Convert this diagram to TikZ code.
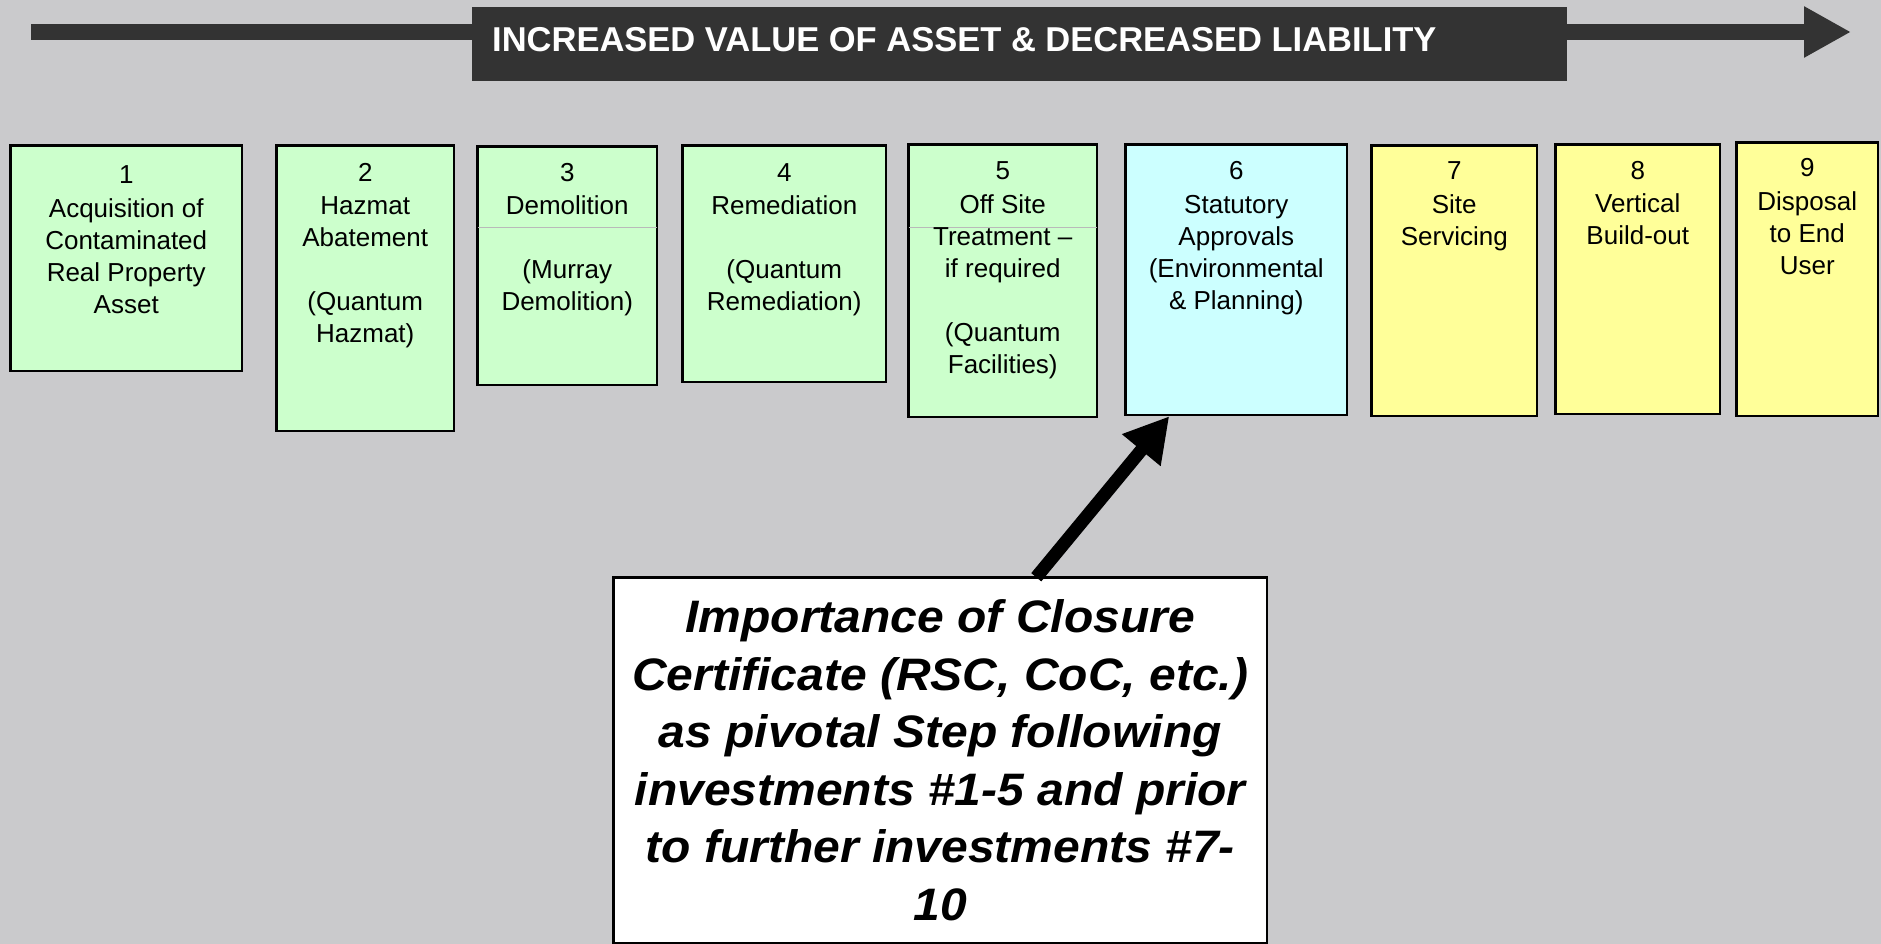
\documentclass[tikz,border=0pt]{standalone}
\usepackage{fontspec}
\setmainfont{Liberation Sans}
\usetikzlibrary{arrows.meta}
\definecolor{bg}{RGB}{202,202,204}
\definecolor{dark}{RGB}{51,51,51}
\definecolor{gfill}{RGB}{204,255,204}
\definecolor{cfill}{RGB}{204,255,255}
\definecolor{yfill}{RGB}{255,255,153}
\tikzset{
  stepbox/.style={draw=black, line width=2.5pt, rectangle, inner sep=0pt, anchor=north west, xshift=1.25pt, yshift=-1.25pt},
  steptext/.style={anchor=north, inner sep=0pt, align=center, font=\fontsize{26}{32}\selectfont},
  faint/.style={draw=gray!55, line width=0.8pt},
  bigarrow/.style={line width=13pt, -{Triangle[length=44pt,width=47pt]}},
  toparrow/.style={draw=dark, line width=16pt, -{Triangle[length=47pt,width=48pt]}}
}
\begin{document}
\begin{tikzpicture}[x=1pt,y=-1pt]
\useasboundingbox (0,0) rectangle (1881,944);
\fill[bg] (0,0) rectangle (1881,944);

% top arrow
\coordinate (as) at (31,32);
\coordinate (ae) at (1851,32);
\draw[toparrow] (as) -- (ae);
\node[fill=dark, inner sep=0pt, anchor=north west, minimum width=1095pt, minimum height=74pt] (title) at (472,7) {};
\node[anchor=base west, inner sep=0pt, text=white, font=\bfseries\fontsize{34.5}{40}\selectfont] (titletext) at (492,52) {INCREASED VALUE OF ASSET \& DECREASED LIABILITY};

% boxes
\node[stepbox, fill=gfill, minimum width=231.5pt, minimum height=225.5pt] (b1) at (8,143) {};
\node[stepbox, fill=gfill, minimum width=177.5pt, minimum height=285.5pt] (b2) at (274,143) {};
\node[stepbox, fill=gfill, minimum width=179.5pt, minimum height=238.5pt] (b3) at (475,144) {};
\node[stepbox, fill=gfill, minimum width=203.5pt, minimum height=236.5pt] (b4) at (680,143) {};
\node[stepbox, fill=gfill, minimum width=188.5pt, minimum height=272.5pt] (b5) at (906,142) {};
\node[stepbox, fill=cfill, minimum width=221.5pt, minimum height=270.5pt] (b6) at (1123,142) {};
\node[stepbox, fill=yfill, minimum width=165.5pt, minimum height=270.5pt] (b7) at (1369,143) {};
\node[stepbox, fill=yfill, minimum width=164.5pt, minimum height=269.5pt] (b8) at (1553,142) {};
\node[stepbox, fill=yfill, minimum width=141.5pt, minimum height=273.5pt] (b9) at (1734,140) {};

% faint rules
\draw[faint] ([xshift=1.5pt,yshift=-82pt]b3.north west) -- ([xshift=-1.5pt,yshift=-82pt]b3.north east);
\draw[faint] ([xshift=1.5pt,yshift=-84pt]b5.north west) -- ([xshift=-1.5pt,yshift=-84pt]b5.north east);

% texts
\node[steptext] (t1) at ([yshift=-17pt]b1.north) {\strut 1\\[2pt]Acquisition of\\Contaminated\\Real Property\\Asset};
\node[steptext] (t2) at ([yshift=-15pt]b2.north) {\strut 2\\[1pt]Hazmat\\Abatement\\[32pt](Quantum\\Hazmat)};
\node[steptext] (t3) at ([yshift=-14pt]b3.north) {\strut 3\\[1pt]Demolition\\[32pt](Murray\\Demolition)};
\node[steptext] (t4) at ([yshift=-15pt]b4.north) {\strut 4\\[1pt]Remediation\\[32pt](Quantum\\Remediation)};
\node[steptext] (t5) at ([yshift=-14pt]b5.north) {\strut 5\\[2pt]Off Site\\Treatment –\\if required\\[32pt](Quantum\\Facilities)};
\node[steptext] (t6) at ([yshift=-14pt]b6.north) {\strut 6\\[2pt]Statutory\\Approvals\\(Environmental\\\& Planning)};
\node[steptext] (t7) at ([yshift=-13pt]b7.north) {\strut 7\\[2pt]Site\\Servicing};
\node[steptext] (t8) at ([yshift=-14pt]b8.north) {\strut 8\\[1pt]Vertical\\Build-out};
\node[steptext] (t9) at ([yshift=-13pt]b9.north) {\strut 9\\[2pt]Disposal\\to End\\User};

% callout
\node[draw=black, fill=white, line width=2.5pt, inner sep=0pt, anchor=north west, minimum width=653.5pt, minimum height=366pt, xshift=1.25pt, yshift=-1.25pt] (callout) at (611,575) {};
\node[anchor=north, inner sep=0pt, align=center, xscale=1.055, transform shape, font=\bfseries\itshape\fontsize{45.5}{57.5}\selectfont] (callouttext) at ([yshift=-16pt]callout.north) {\strut Importance of Closure\\Certificate (RSC, CoC, etc.)\\as pivotal Step following\\investments \#1-5 and prior\\to further investments \#7-\\10};

\draw[bigarrow] ([xshift=96pt,yshift=-1pt]callout.north) -- ([xshift=45pt]b6.south west);
\end{tikzpicture}
\end{document}
